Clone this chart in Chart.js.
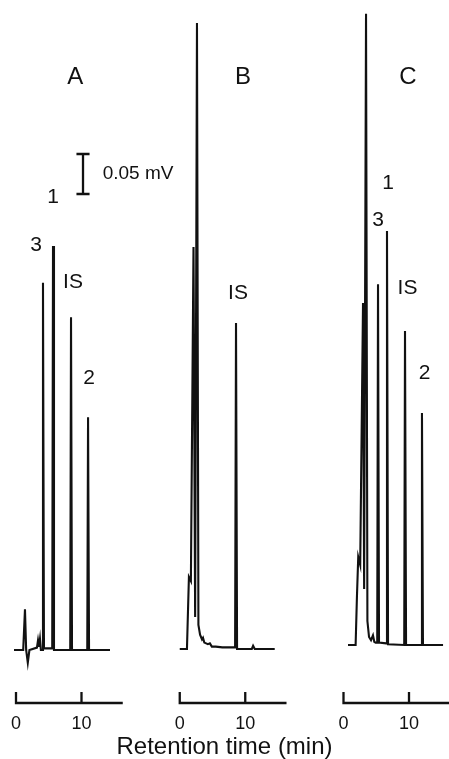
<!DOCTYPE html>
<html>
<head>
<meta charset="utf-8">
<script src="https://cdn.jsdelivr.net/npm/chart.js@4/dist/chart.umd.min.js"></script>
<style>
  html, body { margin: 0; padding: 0; background: #fff; }
  #wrap { position: relative; width: 449px; height: 759px; }
</style>
</head>
<body>
<div id="wrap"><canvas id="chrom"></canvas></div>
<script>
// retention time (min) and detector signal (mV)
var timesA  = [-0.3, 1.1, 1.37, 1.55, 1.8, 2.05, 3.2, 3.36, 3.5, 3.66, 3.8, 4.0, 4.12, 4.27, 5.53, 5.65, 5.8, 8.28, 8.4, 8.55, 10.88, 11.0, 11.15, 14.35];
var signalA = [0, 0, 0.051, 0, -0.016, 0, 0.003, 0.012, 0.004, 0.014, 0, 0, 0.459, 0.002, 0.002, 0.505, 0, 0, 0.416, 0, 0, 0.291, 0, 0];

var timesB  = [0, 1.1, 1.4, 1.7, 2.1, 2.35, 2.63, 2.85, 3.1, 3.4, 3.55, 3.75, 4.3, 4.6, 4.9, 5.5, 6.5, 8.45, 8.59, 8.75, 11.0, 11.2, 11.45, 14.5];
var signalB = [0, 0, 0.09, 0.085, 0.5025, 0.04, 0.7825, 0.03, 0.018, 0.012, 0.014, 0.008, 0.006, 0.007, 0.003, 0.003, 0.002, 0.002, 0.4075, 0, 0, 0.004, 0, 0];

var timesC  = [0.69, 1.85, 2.05, 2.25, 2.55, 2.98, 3.15, 3.44, 3.65, 3.9, 4.2, 4.5, 4.7, 4.9, 5.15, 5.27, 5.42, 6.52, 6.64, 6.8, 9.27, 9.39, 9.55, 11.86, 11.98, 12.13, 15.2];
var signalC = [0, 0, 0.06, 0.11, 0.1, 0.4275, 0.07, 0.789, 0.03, 0.01, 0.006, 0.012, 0.004, 0.003, 0.003, 0.451, 0.003, 0.002, 0.5175, 0.001, 0, 0.3925, 0, 0, 0.29, 0, 0];

var panelNames = ['A', 'B', 'C'];
var peakNames = [['1', '3', 'IS', '2'], ['IS'], ['1', '3', 'IS', '2']];
var tickValues = [0, 10];
var scaleBarMV = 0.05;

// layout: each panel gets its own time origin on one shared x scale
var panelShift = [0, 25, 50];
var baseShift = [0, 0.00125, 0.00625];
var axisLevel = -0.06625, tickTop = -0.0525, axisEnd = 16.3;
var plotBottom = 713.4;   // px, where the chart area ends
var ink = '#111111';
var font = 'Liberation Sans, Arial, Helvetica, sans-serif';

function trace(times, values, p) {
    return times.map(function (t, i) {
        return { x: t + panelShift[p], y: values[i] + baseShift[p] };
    });
}

function axisLine(p) {
    var s = panelShift[p];
    var pts = [{ x: s + tickValues[0], y: tickTop }, { x: s + tickValues[0], y: axisLevel }];
    tickValues.slice(1).forEach(function (v) {
        pts.push({ x: s + v, y: axisLevel }, { x: s + v, y: tickTop }, { x: s + v, y: axisLevel });
    });
    pts.push({ x: s + axisEnd, y: axisLevel });
    return pts;
}

var barX = 10.23, barLow = 0.57, capHalf = 1.0;
var scaleBar = [
    { x: barX - capHalf, y: barLow }, { x: barX + capHalf, y: barLow }, { x: barX, y: barLow },
    { x: barX, y: barLow + scaleBarMV },
    { x: barX - capHalf, y: barLow + scaleBarMV }, { x: barX + capHalf, y: barLow + scaleBarMV }
];

// text annotations, position in panel time (min) / signal (mV)
var labelPos = [
    [[5.65, 0.566], [3.05, 0.506], [8.7, 0.46], [11.15, 0.34]],
    [[8.9, 0.446]],
    [[6.79, 0.584], [5.27, 0.537], [9.77, 0.4525], [12.37, 0.346]]
];
var letterPos = [[9.05, 0.716], [9.66, 0.716], [9.85, 0.716]];

var textPlugin = {
    id: 'chromText',
    afterDatasetsDraw: function (chart) {
        var ctx = chart.ctx, xs = chart.scales.x, ys = chart.scales.y;
        ctx.save();
        ctx.fillStyle = ink;
        ctx.textBaseline = 'middle';
        ctx.textAlign = 'center';
        panelNames.forEach(function (name, p) {
            ctx.font = '24px ' + font;
            ctx.fillText(name, xs.getPixelForValue(letterPos[p][0] + panelShift[p]), ys.getPixelForValue(letterPos[p][1]));
            ctx.font = '21px ' + font;
            peakNames[p].forEach(function (lab, i) {
                var pos = labelPos[p][i];
                ctx.fillText(lab, xs.getPixelForValue(pos[0] + panelShift[p]), ys.getPixelForValue(pos[1]));
            });
        });
        ctx.font = '19px ' + font;
        ctx.textAlign = 'left';
        ctx.fillText(scaleBarMV.toFixed(2) + ' mV', xs.getPixelForValue(barX + 3.0), ys.getPixelForValue(barLow + scaleBarMV / 2));
        ctx.restore();
    }
};

var datasets = [];
[[timesA, signalA], [timesB, signalB], [timesC, signalC]].forEach(function (s, p) {
    datasets.push({ data: trace(s[0], s[1], p), borderWidth: 2.1 });
    datasets.push({ data: axisLine(p), borderWidth: 2.3, clip: false });
});
datasets.push({ data: scaleBar, borderWidth: 2.3 });
datasets.forEach(function (d) {
    d.borderColor = ink;
    d.pointRadius = 0;
    d.tension = 0;
    d.fill = false;
    d.borderJoinStyle = 'miter';
});

var tickSet = [];
panelShift.forEach(function (s) {
    tickValues.forEach(function (v) { tickSet.push(s + v); });
});

new Chart(document.getElementById('chrom'), {
    type: 'line',
    data: { datasets: datasets },
    options: {
        responsive: true,
        maintainAspectRatio: false,
        animation: false,
        layout: { padding: 0 },
        plugins: {
            legend: { display: false },
            tooltip: { enabled: false },
            title: {
                display: true,
                position: 'bottom',
                text: 'Retention time (min)',
                color: ink,
                padding: { top: 0, bottom: 0 },
                font: { family: font, size: 24, weight: 'normal', lineHeight: 1.0 }
            }
        },
        scales: {
            x: {
                type: 'linear',
                min: -16 / 6.55,
                max: (449 - 16) / 6.55,
                grid: { display: false, drawTicks: false },
                border: { display: false },
                afterBuildTicks: function (axis) {
                    axis.ticks = tickSet.map(function (v) { return { value: v }; });
                },
                ticks: {
                    color: ink,
                    padding: 0,
                    maxRotation: 0,
                    autoSkip: false,
                    font: { family: font, size: 18 },
                    callback: function (v) {
                        var p = v >= panelShift[2] ? 2 : (v >= panelShift[1] ? 1 : 0);
                        return String(Math.round(v - panelShift[p]));
                    }
                }
            },
            y: {
                display: false,
                min: 0.8125 - plotBottom / 800,
                max: 0.8125
            }
        }
    },
    plugins: [textPlugin]
});
</script>
</body>
</html>
